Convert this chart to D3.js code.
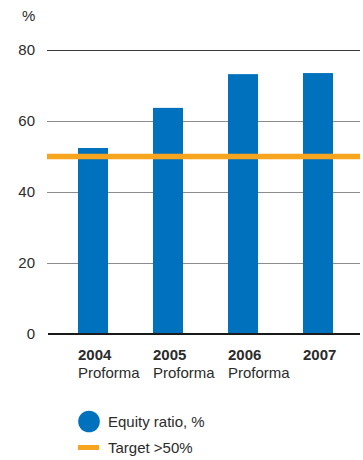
<!DOCTYPE html>
<html>
<head>
<meta charset="utf-8">
<script src="https://cdn.jsdelivr.net/npm/d3@7"></script>
<style>
  html, body { margin: 0; padding: 0; background: #fff; }
  svg { display: block; font-family: "Liberation Sans", Arial, Helvetica, sans-serif; }
</style>
</head>
<body>
<svg id="chart" width="363" height="460"></svg>
<script>
// Equity ratio by year, with the >50% target
const years = ["2004", "2005", "2006", "2007"];
const subLabels = ["Proforma", "Proforma", "Proforma", ""];
const equityRatio = [52.4, 63.7, 73.2, 73.5];
const target = 50;
const yTicks = [0, 20, 40, 60, 80];
const legendLabels = ["Equity ratio, %", "Target >50%"];

const blue = "#0071bc";
const orange = "#f7a51f";
const textColor = "#2b2b2b";

const svg = d3.select("#chart");

const x = d3.scaleBand()
  .domain(years)
  .range([55.5, 355.5])
  .paddingInner(0.6)
  .paddingOuter(0.3);

const y = d3.scaleLinear()
  .domain([0, 80])
  .range([334, 50]);

// horizontal gridlines
svg.append("g")
  .selectAll("line")
  .data(yTicks.filter(d => d !== 0))
  .join("line")
  .attr("x1", 47)
  .attr("x2", 360)
  .attr("y1", d => Math.round(y(d)) + 0.5)
  .attr("y2", d => Math.round(y(d)) + 0.5)
  .attr("stroke", d => d === 80 ? "#3a3a3a" : "#8c8c8c")
  .attr("stroke-width", 1);

// y axis labels
const yAxis = d3.axisLeft(y).tickValues(yTicks).tickSize(0).tickPadding(0);
const yG = svg.append("g")
  .attr("transform", "translate(35,0)")
  .call(yAxis);
yG.select(".domain").remove();
yG.selectAll("text")
  .attr("font-size", 15)
  .attr("fill", textColor)
  .attr("font-family", "'Liberation Sans', Arial, sans-serif");

svg.append("text")
  .attr("x", 22)
  .attr("y", 21)
  .attr("font-size", 15)
  .attr("fill", textColor)
  .text("%");

// bars
svg.append("g")
  .selectAll("rect")
  .data(years.map((yr, i) => ({ yr, v: equityRatio[i] })))
  .join("rect")
  .attr("x", d => x(d.yr))
  .attr("width", x.bandwidth())
  .attr("y", d => y(d.v))
  .attr("height", d => y(0) - y(d.v))
  .attr("fill", blue);

// zero baseline
svg.append("line")
  .attr("x1", 48)
  .attr("x2", 360)
  .attr("y1", y(0))
  .attr("y2", y(0))
  .attr("stroke", "#1a1a1a")
  .attr("stroke-width", 2);

// target line
svg.append("line")
  .attr("x1", 47)
  .attr("x2", 360)
  .attr("y1", y(target))
  .attr("y2", y(target))
  .attr("stroke", orange)
  .attr("stroke-width", 5.5);

// category labels
const cat = svg.append("g")
  .selectAll("g")
  .data(years.map((yr, i) => ({ yr, sub: subLabels[i] })))
  .join("g")
  .attr("transform", d => `translate(${x(d.yr)},0)`);
cat.append("text")
  .attr("y", 360)
  .attr("font-size", 15)
  .attr("font-weight", "bold")
  .attr("fill", textColor)
  .text(d => d.yr);
cat.append("text")
  .attr("y", 378)
  .attr("font-size", 15)
  .attr("fill", textColor)
  .text(d => d.sub);

// legend
const legend = svg.append("g");
legend.append("circle")
  .attr("cx", 89)
  .attr("cy", 421.5)
  .attr("r", 10.8)
  .attr("fill", blue);
legend.append("line")
  .attr("x1", 78)
  .attr("x2", 99)
  .attr("y1", 447.5)
  .attr("y2", 447.5)
  .attr("stroke", orange)
  .attr("stroke-width", 5);
legend.selectAll("text")
  .data(legendLabels)
  .join("text")
  .attr("x", 108)
  .attr("y", (d, i) => i === 0 ? 427 : 453)
  .attr("font-size", 15)
  .attr("fill", textColor)
  .text(d => d);
</script>
</body>
</html>
